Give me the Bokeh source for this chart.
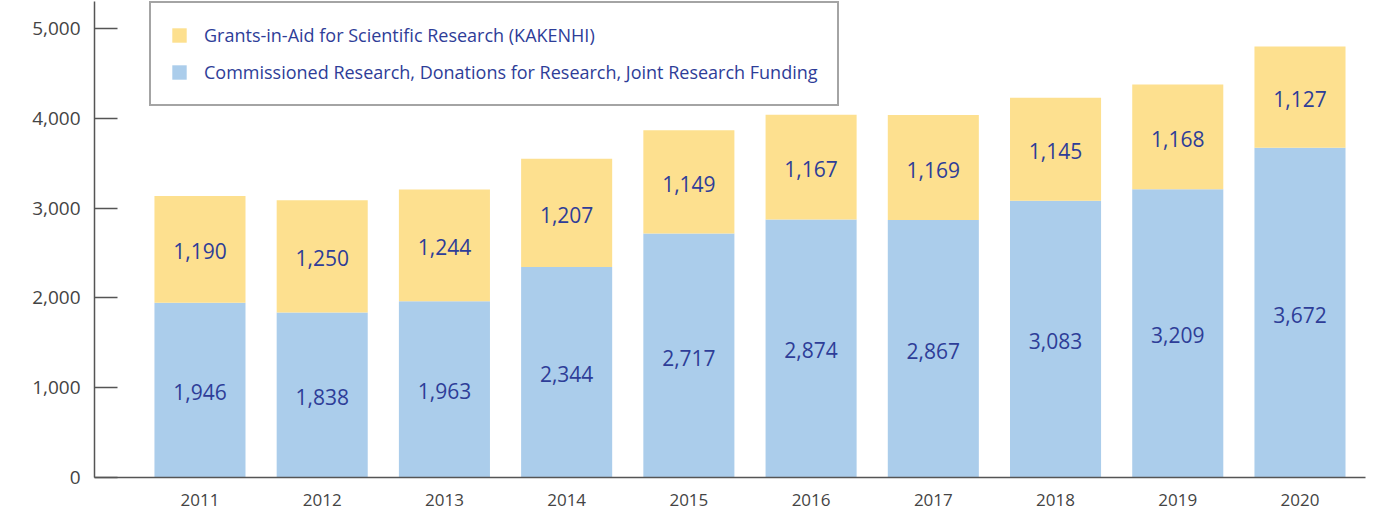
from bokeh.plotting import figure
from bokeh.models import ColumnDataSource, Range1d, FixedTicker, NumeralTickFormatter, Legend, LegendItem
from bokeh.core.properties import value
from bokeh.embed import file_html
from bokeh.resources import INLINE

years = ["2011", "2012", "2013", "2014", "2015", "2016", "2017", "2018", "2019", "2020"]
commissioned = [1946, 1838, 1963, 2344, 2717, 2874, 2867, 3083, 3209, 3672]
kakenhi = [1190, 1250, 1244, 1207, 1149, 1167, 1169, 1145, 1168, 1127]
y_ticks = [0, 1000, 2000, 3000, 4000, 5000]

BLUE = "#ABCDEB"
YELLOW = "#FDE08F"
LABEL = "#2E3D98"
AXIS = "#555555"
FONT = "Open Sans"

xs = list(range(len(years)))
totals = [c + k for c, k in zip(commissioned, kakenhi)]
src = ColumnDataSource(dict(
    x=xs,
    blue=commissioned,
    yellow=kakenhi,
    total=totals,
    blue_mid=[c / 2 for c in commissioned],
    yellow_mid=[c + k / 2 for c, k in zip(commissioned, kakenhi)],
    blue_txt=[f"{v:,}" for v in commissioned],
    yellow_txt=[f"{v:,}" for v in kakenhi],
))

p = figure(width=1370, height=510, output_backend="svg", toolbar_location=None,
           x_range=Range1d(-0.863, 9.536), y_range=Range1d(0, 5301),
           min_border_left=94, min_border_right=5, min_border_top=1, min_border_bottom=33)
p.outline_line_color = None
p.xgrid.visible = False
p.ygrid.visible = False

r_blue = p.vbar(x="x", bottom=0, top="blue", width=0.745, source=src, fill_color=BLUE, line_color=None)
r_yel = p.vbar(x="x", bottom="blue", top="total", width=0.745, source=src, fill_color=YELLOW, line_color=None)

p.text(x="x", y="blue_mid", text="blue_txt", source=src, text_align="center", text_baseline="middle",
       y_offset=2, text_color=LABEL, text_font=value(FONT), text_font_size="21px")
p.text(x="x", y="yellow_mid", text="yellow_txt", source=src, text_align="center", text_baseline="middle",
       y_offset=2, text_color=LABEL, text_font=value(FONT), text_font_size="21px")

# y axis
ya = p.yaxis[0]
ya.ticker = FixedTicker(ticks=y_ticks)
ya.formatter = NumeralTickFormatter(format="0,0")
ya.major_tick_in = 23
ya.major_tick_out = 0
ya.minor_tick_line_color = None
ya.axis_line_color = AXIS
ya.axis_line_width = 1.5
ya.major_tick_line_color = AXIS
ya.major_tick_line_width = 1.5
ya.major_label_text_font = FONT
ya.major_label_text_font_size = "19px"
ya.major_label_text_color = "#444444"
ya.major_label_standoff = 14

# x axis
xa = p.xaxis[0]
xa.ticker = FixedTicker(ticks=xs)
xa.major_label_overrides = {i: y for i, y in zip(xs, years)}
xa.major_tick_line_color = None
xa.minor_tick_line_color = None
xa.axis_line_color = AXIS
xa.axis_line_width = 1.5
xa.major_label_text_font = FONT
xa.major_label_text_font_size = "17px"
xa.major_label_text_color = "#444444"
xa.major_label_standoff = 10

legend = Legend(items=[
    LegendItem(label="Grants-in-Aid for Scientific Research (KAKENHI)", renderers=[r_yel]),
    LegendItem(label="Commissioned Research, Donations for Research, Joint Research Funding", renderers=[r_blue]),
], location=(55, 371), orientation="vertical")
legend.border_line_color = "#4a4a4a"
legend.border_line_width = 2
legend.background_fill_alpha = 1
legend.padding = 19
legend.margin = 0
legend.spacing = 11
legend.glyph_width = 18
legend.glyph_height = 18
legend.label_height = 26
legend.label_standoff = 16
legend.label_text_font = FONT
legend.label_text_font_size = "18px"
legend.label_text_color = LABEL
p.add_layout(legend, "center")

open("out.html", "w").write(file_html(p, INLINE))
